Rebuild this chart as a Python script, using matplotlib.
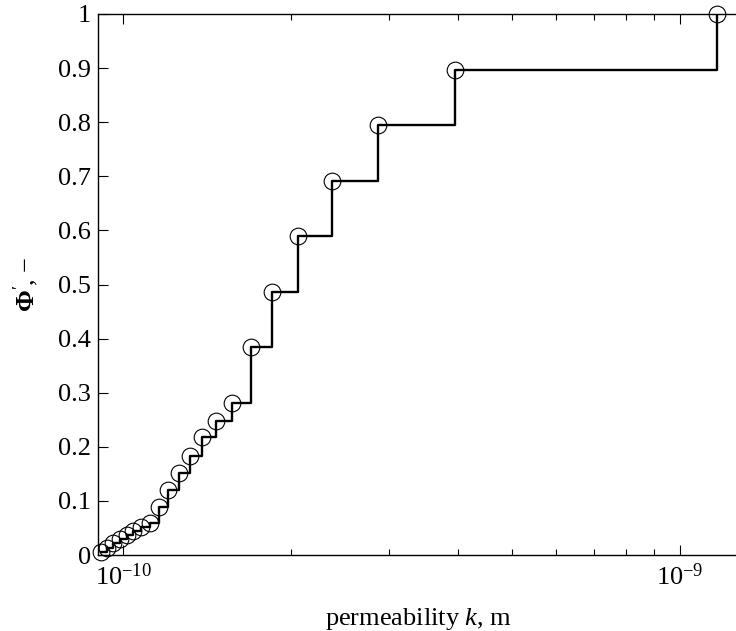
import numpy as np
import matplotlib
matplotlib.use('Agg')
import matplotlib.pyplot as plt
from matplotlib.ticker import FormatStrFormatter, LogLocator, NullFormatter

plt.rcParams['font.family'] = 'Liberation Serif'
plt.rcParams['mathtext.fontset'] = 'custom'
plt.rcParams['mathtext.rm'] = 'Liberation Serif'
plt.rcParams['mathtext.it'] = 'Liberation Serif:italic'
plt.rcParams['mathtext.bf'] = 'Liberation Serif:bold'

# permeability values (m) and cumulative fraction
k = [9.12e-11, 9.35e-11, 9.60e-11, 9.88e-11, 1.015e-10, 1.042e-10, 1.076e-10,
     1.118e-10, 1.160e-10, 1.205e-10, 1.260e-10, 1.319e-10, 1.386e-10,
     1.469e-10, 1.569e-10, 1.697e-10, 1.851e-10, 2.062e-10, 2.372e-10,
     2.870e-10, 3.945e-10, 1.165e-9]
phi = [0.0055, 0.013, 0.022, 0.030, 0.037, 0.044, 0.052, 0.059, 0.089,
       0.120, 0.152, 0.183, 0.218, 0.248, 0.281, 0.384, 0.487, 0.589,
       0.692, 0.794, 0.897, 1.0]

yticks = [0, 0.1, 0.2, 0.3, 0.4, 0.5, 0.6, 0.7, 0.8, 0.9, 1.0]

fig = plt.figure(figsize=(7.36, 6.31), dpi=100)
ax = fig.add_axes([98 / 736, 76 / 631, 640 / 736, 541 / 631])

ax.plot(k, phi, drawstyle='steps-post', color='k', lw=1.7)
ax.plot(k, phi, 'o', mfc='none', mec='k', ms=12, mew=0.8, clip_on=False)

ax.set_xscale('log')
ax.set_xlim(9.02e-11, 1.2716e-9)
ax.set_ylim(0, 1)
ax.set_yticks(yticks)
ax.yaxis.set_major_formatter(FormatStrFormatter('%g'))
ax.xaxis.set_minor_locator(LogLocator(base=10, subs=np.arange(2, 10)))
ax.xaxis.set_minor_formatter(NullFormatter())

ax.tick_params(which='both', direction='in', top=True, right=False, labelsize=19)
ax.tick_params(which='major', length=7, width=0.8)
ax.tick_params(which='minor', length=4, width=0.8)
ax.tick_params(axis='y', pad=5)
ax.tick_params(axis='x', pad=6)
for s in ax.spines.values():
    s.set_linewidth(1.0)
ax.spines['right'].set_visible(False)

ax.set_xlabel('permeability $k$, m', fontsize=19, labelpad=12)
ax.set_ylabel(r"$\mathbf{\Phi}^{\prime}$, $-$", fontsize=19, labelpad=12)

fig.savefig('out.png', dpi=100)
